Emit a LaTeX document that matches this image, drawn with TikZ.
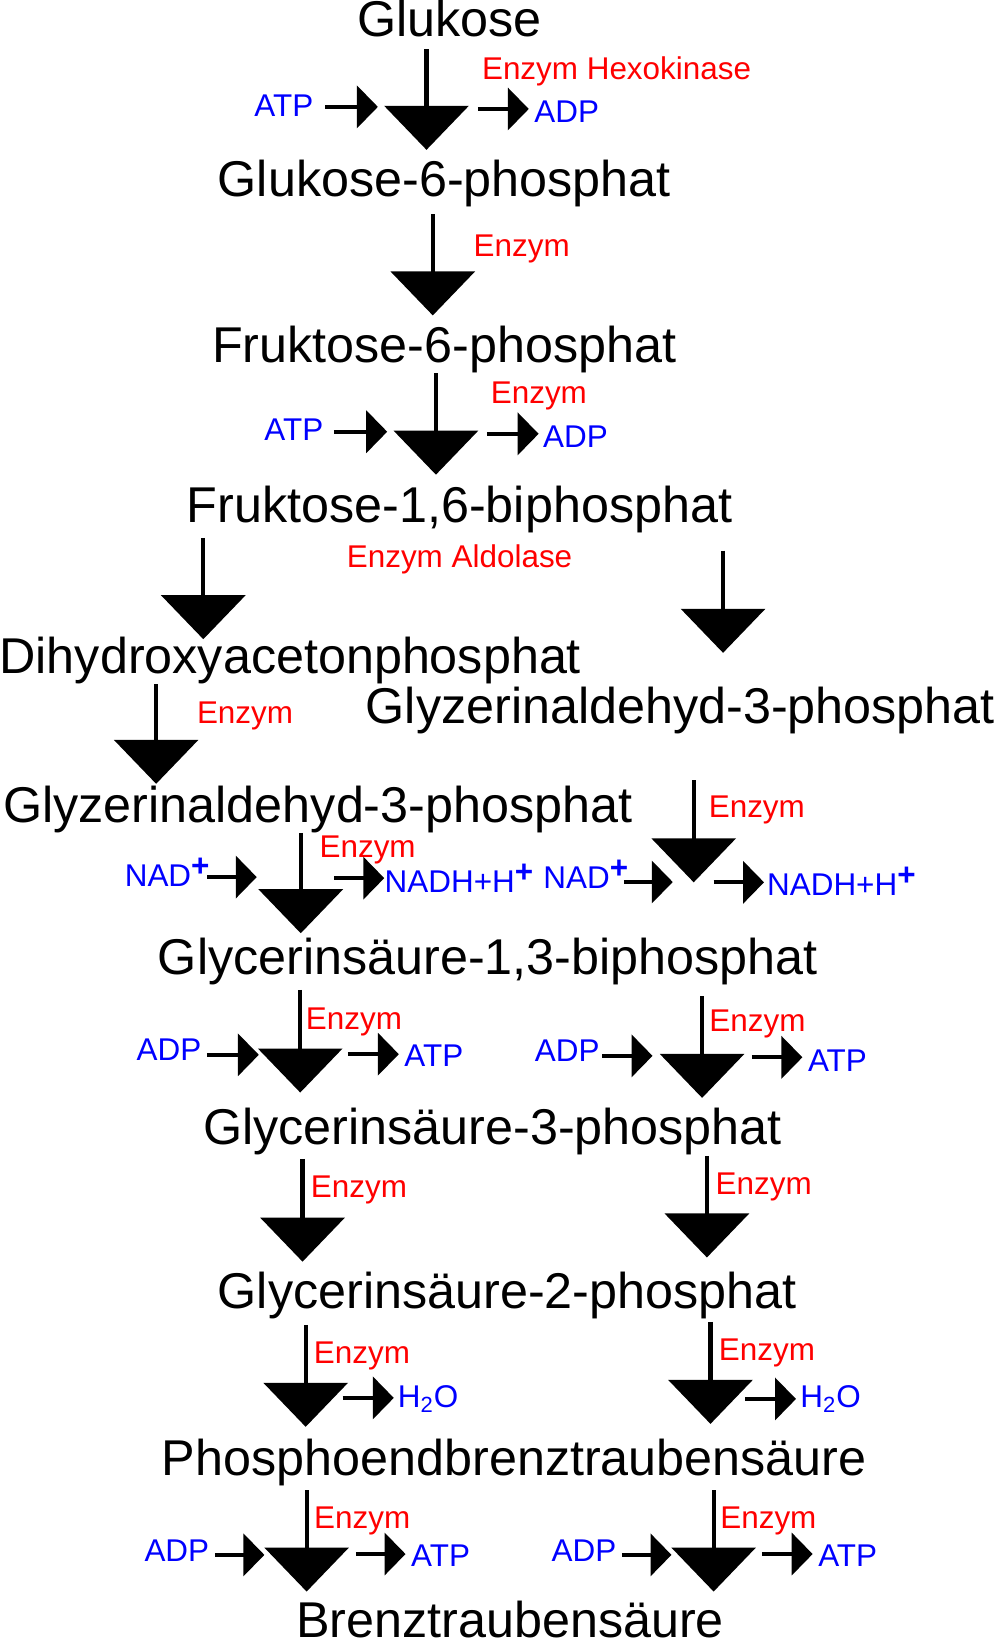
\documentclass[tikz,border=0pt]{standalone}
\usepackage{fontspec}
\setmainfont{Liberation Sans}
\usepackage{tikz}
\usetikzlibrary{arrows.meta}
\definecolor{enzred}{RGB}{255,0,0}
\definecolor{cofblue}{RGB}{0,0,255}
\newcommand{\hplus}{\raisebox{5pt}{\bfseries +}}
\tikzset{% 
    met/.style={%
        anchor=base, inner sep=0pt, font=\fontsize{24}{28}\selectfont
    }
}
\tikzset{% 
    rxn/.style={%
        -{Triangle[length=21pt,width=40pt]}, line width=2pt
    }
}
\tikzstyle{side}=[-{Triangle[length=10pt,width=20pt]}, line width=2pt]
\tikzstyle{inflow}=[side, shorten <=2.5pt]
\tikzstyle{outflow}=[side, shorten >=2.5pt]
\tikzstyle{enz}=[anchor=base west, inner sep=0pt, text=enzred, font=\fontsize{15}{18}\selectfont]
\tikzstyle{cof}=[enz, text=cofblue]

\begin{document}
\begin{tikzpicture}[x=0.5pt,y=-0.5pt]
  \useasboundingbox (0,0) rectangle (950,1566);

  % Metabolite
  \node[met] (glc) at (429,35) {Glukose};
  \node[met] (g6p) at (424,188) {Glukose-6-phosphat};
  \node[met] (f6p) at (424,346) {Fruktose-6-phosphat};
  \node[met] (fbp) at (438.5,499) {Fruktose-1,6-biphosphat};
  \node[met] (dhap) at (277,642.5) {Dihydroxyacetonphosphat};
  \node[met] (gapR) at (649.3,690) {Glyzerinaldehyd-3-phosphat};
  \node[met] (gapL) at (303.4,784.5) {Glyzerinaldehyd-3-phosphat};
  \node[met] (bpg) at (465.5,930.3) {Glycerinsäure-1,3-biphosphat};
  \node[met] (pg3) at (470,1092.6) {Glycerinsäure-3-phosphat};
  \node[met] (pg2) at (484,1249) {Glycerinsäure-2-phosphat};
  \node[met] (pep) at (490.8,1407.6) {Phosphoendbrenztraubensäure};
  \node[met] (pyr) at (486.7,1562.5) {Brenztraubensäure};

  % Glukose -> Glukose-6-phosphat
  \coordinate (r1) at (407,143);
  \draw[rxn, shorten <=5.5pt] (glc.south -| r1) -- (r1);
  \node[enz] (enz1) at (459.6,75.4) {Enzym Hexokinase};
  \node[cof] (atp1) at (242.4,111.3) {ATP};
  \node[cof] (adp1) at (509.6,116.7) {ADP};
  \coordinate (s1) at (360.6,102);
  \coordinate (t1) at (456,104);
  \draw[inflow, shorten <=5.5pt] (atp1.east |- s1) -- (s1);
  \draw[outflow] (t1) -- (t1 -| adp1.west);

  % Glukose-6-phosphat -> Fruktose-6-phosphat
  \coordinate (r2) at (413,301);
  \draw[rxn, shorten <=3pt] (g6p.south -| r2) -- (r2);
  \node[enz] (enz2) at (451.6,245) {Enzym};

  % Fruktose-6-phosphat -> Fruktose-1,6-biphosphat
  \coordinate (r3) at (416,453);
  \draw[rxn] (f6p.south -| r3) -- (r3);
  \node[enz] (enz3) at (468,385) {Enzym};
  \node[cof] (atp3) at (252,420.5) {ATP};
  \node[cof] (adp3) at (518,426.6) {ADP};
  \coordinate (s3) at (369.5,412);
  \coordinate (t3) at (464.5,414);
  \draw[inflow, shorten <=4.8pt] (atp3.east |- s3) -- (s3);
  \draw[outflow, shorten >=2pt] (t3) -- (t3 -| adp3.west);

  % Aldolase
  \node[enz] (enzAld) at (330.6,542) {Enzym Aldolase};
  \coordinate (r4) at (194,610);
  \draw[rxn, shorten <=2pt] (fbp.south -| r4) -- (r4);
  \coordinate (r5) at (690,623);
  \draw[rxn, shorten <=8pt] (fbp.south -| r5) -- (r5);

  % Dihydroxyacetonphosphat -> Glyzerinaldehyd-3-phosphat
  \coordinate (r6) at (149,748);
  \draw[rxn] (dhap.south -| r6) -- (r6);
  \node[enz] (enz6) at (187.6,690) {Enzym};

  % Glyzerinaldehyd-3-phosphat -> Glycerinsaeure-1,3-biphosphat (links)
  \coordinate (r7) at (287,890.6);
  \draw[rxn] (gapL.south -| r7) -- (r7);
  \node[enz] (enz7) at (304.6,818) {Enzym};
  \node[cof] (nad7) at (118.7,846) {NAD\hplus};
  \node[cof] (nadh7) at (366.7,852) {NADH+H\hplus};
  \coordinate (s7) at (245,837);
  \coordinate (t7) at (319,838);
  \draw[inflow, shorten <=-1.25pt] (nad7.east |- s7) -- (s7);
  \draw[outflow, shorten >=0pt] (t7) -- (t7 -| nadh7.west);

  % Glyzerinaldehyd-3-phosphat -> Glycerinsaeure-1,3-biphosphat (rechts)
  \coordinate (r8) at (662,842);
  \draw[rxn, shorten <=22pt] (gapR.south -| r8) -- (r8);
  \node[enz] (enz8) at (676,780.5) {Enzym};
  \node[cof] (nad8) at (518.2,848) {NAD\hplus};
  \node[cof] (nadh8) at (731.7,855) {NADH+H\hplus};
  \coordinate (s8) at (642,841.7);
  \coordinate (t8) at (681,842);
  \draw[inflow, shorten <=-2.25pt] (nad8.east |- s8) -- (s8);
  \draw[outflow, shorten >=1.3pt] (t8) -- (t8 -| nadh8.west);

  % Glycerinsaeure-1,3-biphosphat -> Glycerinsaeure-3-phosphat
  \coordinate (r9) at (286.5,1042.6);
  \draw[rxn, shorten <=2pt] (bpg.south -| r9) -- (r9);
  \node[enz] (enz9) at (291.6,982) {Enzym};
  \node[cof] (adp9) at (130,1012) {ADP};
  \node[cof] (atp9) at (385.6,1018) {ATP};
  \coordinate (s9) at (247,1006.6);
  \coordinate (t9) at (332,1006);
  \draw[inflow] (adp9.east |- s9) -- (s9);
  \draw[outflow] (t9) -- (t9 -| atp9.west);
  %
  \coordinate (r10) at (670,1047.7);
  \draw[rxn, shorten <=5pt] (bpg.south -| r10) -- (r10);
  \node[enz] (enz10) at (676.6,984.4) {Enzym};
  \node[cof] (adp10) at (510,1013) {ADP};
  \node[cof] (atp10) at (770.7,1022.6) {ATP};
  \coordinate (s10) at (622.7,1007.6);
  \coordinate (t10) at (717.5,1009);
  \draw[inflow, shorten <=1pt] (adp10.east |- s10) -- (s10);
  \draw[outflow] (t10) -- (t10 -| atp10.west);

  % Glycerinsaeure-3-phosphat -> Glycerinsaeure-2-phosphat
  \coordinate (r11) at (288.7,1204);
  \draw[rxn, shorten <=1.5pt] (pg3.south -| r11) -- (r11);
  \node[enz] (enz11) at (296.3,1143) {Enzym};
  \coordinate (r12) at (674.6,1200);
  \draw[rxn] (pg3.south -| r12) -- (r12);
  \node[enz] (enz12) at (682.6,1140) {Enzym};

  % Glycerinsaeure-2-phosphat -> Phosphoendbrenztraubensaeure
  \coordinate (r13) at (291.7,1361.6);
  \draw[rxn, shorten <=2.5pt] (pg2.south -| r13) -- (r13);
  \node[enz] (enz13) at (299.2,1301.5) {Enzym};
  \node[cof] (h2o13) at (379.4,1343.5) {H\textsubscript{2}O};
  \coordinate (t13) at (327,1334);
  \draw[outflow, shorten >=1.8pt] (t13) -- (t13 -| h2o13.west);
  %
  \coordinate (r14) at (678,1358.8);
  \draw[rxn, shorten <=1pt] (pg2.south -| r14) -- (r14);
  \node[enz] (enz14) at (685.6,1298) {Enzym};
  \node[cof] (h2o14) at (763.4,1343.5) {H\textsubscript{2}O};
  \coordinate (t14) at (711,1335);
  \draw[outflow, shorten >=1.9pt] (t14) -- (t14 -| h2o14.west);

  % Phosphoendbrenztraubensaeure -> Brenztraubensaeure
  \coordinate (r15) at (292.6,1518.8);
  \draw[rxn, shorten <=2pt] (pep.south -| r15) -- (r15);
  \node[enz] (enz15) at (299.4,1459) {Enzym};
  \node[cof] (adp15) at (137.5,1490) {ADP};
  \node[cof] (atp15) at (392,1495) {ATP};
  \coordinate (s15) at (252.3,1483.8);
  \coordinate (t15) at (339.7,1483);
  \draw[inflow] (adp15.east |- s15) -- (s15);
  \draw[outflow] (t15) -- (t15 -| atp15.west);
  %
  \coordinate (r16) at (681,1518.8);
  \draw[rxn, shorten <=2pt] (pep.south -| r16) -- (r16);
  \node[enz] (enz16) at (687,1459) {Enzym};
  \node[cof] (adp16) at (526,1490) {ADP};
  \node[cof] (atp16) at (780.5,1495) {ATP};
  \coordinate (s16) at (640.8,1483.8);
  \coordinate (t16) at (727,1483);
  \draw[inflow] (adp16.east |- s16) -- (s16);
  \draw[outflow] (t16) -- (t16 -| atp16.west);
\end{tikzpicture}
\end{document}
